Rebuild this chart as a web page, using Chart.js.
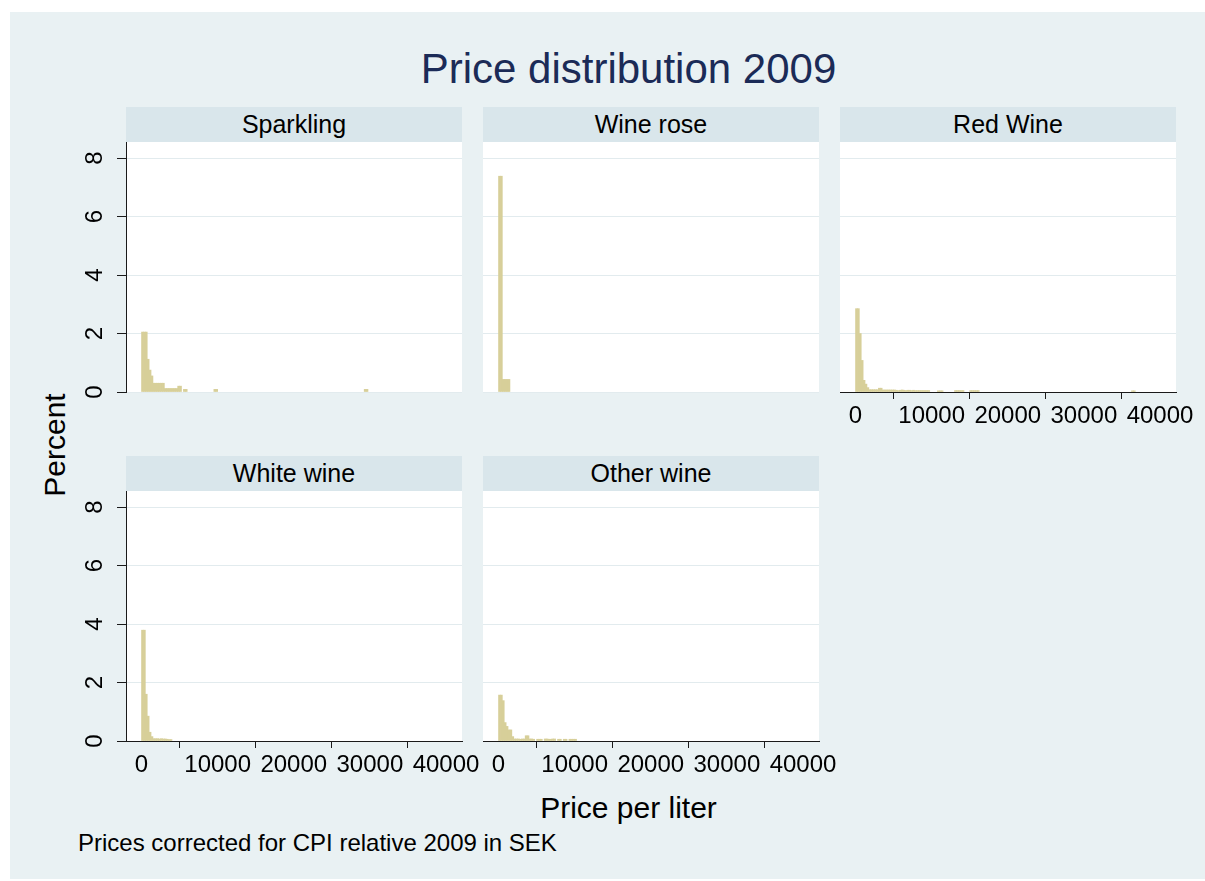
<!DOCTYPE html>
<html>
<head>
<meta charset="utf-8">
<script src="https://cdn.jsdelivr.net/npm/chart.js@4/dist/chart.umd.min.js"></script>
<style>
html,body{margin:0;padding:0;background:#fff;width:1205px;height:881px;overflow:hidden;font-family:'Liberation Sans',Arial,Helvetica,sans-serif;}
#bg{position:absolute;left:10px;top:12px;width:1195px;height:867px;background:#e9f1f3;}
.strip{position:absolute;height:35px;width:336px;background:#d9e6eb;color:#000;font-size:25px;display:flex;align-items:center;justify-content:center;}
canvas{position:absolute;}
.txt{position:absolute;white-space:nowrap;line-height:1;}
</style>
</head>
<body>
<div id="bg"></div>
<div class="txt" id="title" style="left:0;width:1257px;text-align:center;top:48px;font-size:42px;color:#1b2b57;">Price distribution 2009</div>
<div class="txt" id="ytitle" style="left:55px;top:445px;font-size:30px;color:#000;transform:translate(-50%,-50%) rotate(-90deg);">Percent</div>
<div class="txt" id="xtitle" style="left:0;width:1257px;text-align:center;top:793px;font-size:30px;color:#000;">Price per liter</div>
<div class="txt" id="note" style="left:78px;top:831px;font-size:24px;color:#000;">Prices corrected for CPI relative 2009 in SEK</div>
<div id="panels"></div>
<script>
// ---- data ----
const panelTitles = ['Sparkling', 'Wine rose', 'Red Wine', 'White wine', 'Other wine'];
const xTickValues = [0, 10000, 20000, 30000, 40000];
const yTickValues = [0, 2, 4, 6, 8];
const binWidth = 250; // SEK per liter

const sparklingPrice = [0,250,500,750,1000,1250,1500,1750,2000,2250,2500,2750,3000,3250,3500,3750,4000,4250,4500,4750,5000,5500,5750,9500,9750,29250,29500];
const sparklingPct   = [2.05,2.05,2.05,1.12,0.75,0.55,0.30,0.30,0.30,0.30,0.30,0.30,0.12,0.12,0.12,0.12,0.12,0.12,0.12,0.20,0.20,0.09,0.09,0.09,0.09,0.09,0.09];

const rosePrice = [0,250,500,750,1000,1250];
const rosePct   = [7.38,7.38,0.43,0.43,0.43,0.43];

const redPrice = [0,250,500,750,1000,1250,1500,1750,2000,2250,2500,2750,3000,3250,3500,3750,4000,4250,4500,4750,5000,5250,5500,5750,6000,6250,6500,6750,7000,7250,7500,7750,8000,8250,8500,8750,9000,9250,9500,10750,11000,11250,13000,13250,13500,13750,14000,15000,15250,15500,15750,16000,36250,36500];
const redPct   = [2.85,2.85,2.0,1.08,0.4,0.27,0.15,0.08,0.08,0.08,0.08,0.08,0.13,0.13,0.07,0.07,0.07,0.07,0.07,0.07,0.07,0.06,0.05,0.06,0.07,0.06,0.05,0.06,0.06,0.05,0.06,0.05,0.05,0.05,0.05,0.05,0.05,0.05,0.05,0.04,0.04,0.04,0.05,0.05,0.05,0.05,0.05,0.05,0.05,0.05,0.05,0.05,0.04,0.04];

const whitePrice = [0,250,500,750,1000,1250,1500,1750,2000,2250,2500,2750,3000,3250,3500,3750];
const whitePct   = [3.79,3.79,1.6,0.85,0.3,0.15,0.08,0.08,0.08,0.07,0.08,0.07,0.07,0.06,0.05,0.05];

const otherPrice = [0,250,500,750,1000,1250,1500,1750,2000,2250,2500,2750,3000,3250,3500,3750,4000,4250,4500,5000,5250,5500,6000,6250,6500,6750,7000,7250,7750,8000,8500,8750,9250,9500,9750,10000];
const otherPct   = [1.57,1.57,1.38,0.63,0.5,0.38,0.38,0.15,0.07,0.07,0.07,0.06,0.07,0.07,0.18,0.18,0.07,0.07,0.06,0.06,0.06,0.06,0.07,0.07,0.06,0.06,0.07,0.07,0.06,0.06,0.06,0.06,0.06,0.06,0.06,0.06];

// ---- layout / style ----
const FONT = "'Liberation Sans', Arial, Helvetica, sans-serif";
const BAR = 'rgb(215,207,153)';
const GRID = '#e2ebee';
const AXIS = '#1a1a1a';
const colLeft = [126, 483, 840], rowTop = [142, 491];
const PW = 336, PH = 250;
const AX_W = 70, PAD_T = 30, AX_H = 50, PAD_R = 40;

const panels = [
  {title: panelTitles[0], price: sparklingPrice, pct: sparklingPct, col: 0, row: 0, yAxis: true,  xAxis: false},
  {title: panelTitles[1], price: rosePrice,      pct: rosePct,      col: 1, row: 0, yAxis: false, xAxis: false},
  {title: panelTitles[2], price: redPrice,       pct: redPct,       col: 2, row: 0, yAxis: false, xAxis: true},
  {title: panelTitles[3], price: whitePrice,     pct: whitePct,     col: 0, row: 1, yAxis: true,  xAxis: true},
  {title: panelTitles[4], price: otherPrice,     pct: otherPct,     col: 1, row: 1, yAxis: false, xAxis: true}
];

const plotBg = {
  id: 'plotBg',
  beforeDraw(chart) {
    const {ctx, chartArea: a} = chart;
    ctx.save();
    ctx.fillStyle = '#ffffff';
    ctx.fillRect(a.left, a.top, a.right - a.left, a.bottom - a.top);
    ctx.restore();
  }
};

const host = document.getElementById('panels');
panels.forEach(p => {
  const left = colLeft[p.col], top = rowTop[p.row];
  const strip = document.createElement('div');
  strip.className = 'strip';
  strip.style.left = left + 'px';
  strip.style.top = (top - 35) + 'px';
  strip.textContent = p.title;
  host.appendChild(strip);

  const cv = document.createElement('canvas');
  cv.width = AX_W + PW + PAD_R;
  cv.height = PAD_T + PH + AX_H;
  cv.style.left = (left - AX_W) + 'px';
  cv.style.top = (top - PAD_T) + 'px';
  host.appendChild(cv);

  new Chart(cv, {
    type: 'bar',
    data: {
      datasets: [{
        data: p.price.map((v, i) => ({x: v + binWidth / 2, y: p.pct[i]})),
        backgroundColor: BAR,
        borderWidth: 0,
        barPercentage: 1,
        categoryPercentage: 1
      }]
    },
    options: {
      responsive: false,
      animation: false,
      devicePixelRatio: 1,
      layout: {padding: {top: PAD_T, right: PAD_R, left: 0, bottom: 0}},
      plugins: {legend: {display: false}, tooltip: {enabled: false}, title: {display: false}},
      scales: {
        x: {
          type: 'linear', min: -2040, max: 42100, offset: false,
          afterBuildTicks: s => { s.ticks = xTickValues.map(v => ({value: v})); },
          afterFit: s => { s.height = AX_H; },
          grid: {display: p.xAxis, drawOnChartArea: false, drawTicks: p.xAxis, tickLength: 7, color: AXIS, tickColor: AXIS, tickWidth: 1},
          border: {display: p.xAxis, color: AXIS, width: 1},
          ticks: {display: p.xAxis, autoSkip: false, maxRotation: 0, minRotation: 0, color: '#000',
                  font: {family: FONT, size: 24}, padding: 3, callback: v => String(v)}
        },
        y: {
          type: 'linear', min: 0, max: 8.55, position: 'left',
          afterBuildTicks: s => { s.ticks = yTickValues.map(v => ({value: v})); },
          afterFit: s => { s.width = AX_W; },
          grid: {color: GRID, lineWidth: 1, drawTicks: p.yAxis, tickLength: 9, tickColor: AXIS, tickWidth: 1},
          border: {display: p.yAxis, color: AXIS, width: 1},
          ticks: {display: p.yAxis, minRotation: 90, maxRotation: 90, crossAlign: 'center', padding: 15,
                  color: '#000', font: {family: FONT, size: 24}, callback: v => String(v)}
        }
      }
    },
    plugins: [plotBg]
  });
});
</script>
</body>
</html>
